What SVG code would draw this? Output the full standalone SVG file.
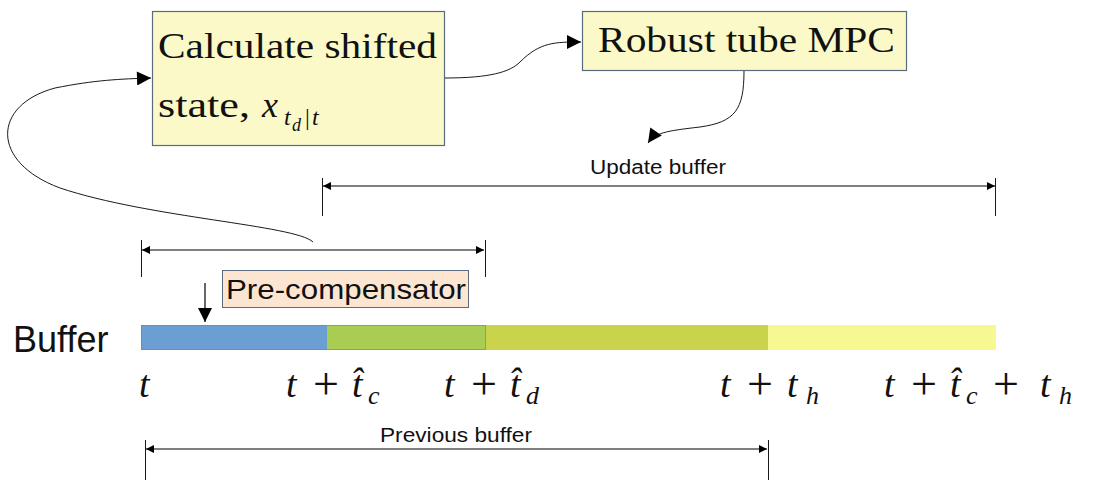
<svg xmlns="http://www.w3.org/2000/svg" width="1093" height="503" viewBox="0 0 1093 503">
<defs>
<style>
.box{fill:#fbf9c8;stroke:#5b6b7e;stroke-width:1.2}
.serif{font-family:"Liberation Serif","DejaVu Serif",serif;fill:#111}
.sans{font-family:"Liberation Sans","DejaVu Sans",sans-serif;fill:#111}
.math{font-family:"Liberation Serif","DejaVu Serif",serif;font-style:italic;fill:#111}
.plus{font-family:"Liberation Serif","DejaVu Serif",serif;fill:#111;font-size:46px;text-anchor:middle}
.mr{font-family:"Liberation Serif","DejaVu Serif",serif;fill:#111}
.line{stroke:#000;stroke-width:1.2;fill:none}
.thin{stroke:#000;stroke-width:0.9;fill:none}
</style>
<marker id="ah" viewBox="0 0 10 10" refX="10" refY="5" markerWidth="22" markerHeight="14" markerUnits="userSpaceOnUse" orient="auto">
<path d="M0,0 L10,5 L0,10 z" fill="#000"/>
</marker>
<marker id="dh" viewBox="0 0 10 10" refX="10" refY="5" markerWidth="12" markerHeight="8" markerUnits="userSpaceOnUse" orient="auto-start-reverse">
<path d="M0,0 L10,5 L0,10 z" fill="#000"/>
</marker>
</defs>
<rect width="1093" height="503" fill="#fff"/>

<g id="calc">
<rect class="box" x="152.5" y="11.5" width="292" height="134"/>
<text class="serif" x="158" y="58" font-size="36" textLength="279" lengthAdjust="spacingAndGlyphs">Calculate shifted</text>
<text class="serif" x="158" y="117" font-size="36" textLength="92" lengthAdjust="spacingAndGlyphs">state,</text>
<text class="math" x="262" y="117" font-size="36">x</text>
<text class="math" x="284" y="125" font-size="24">t</text>
<text class="math" x="292" y="131" font-size="18">d</text>
<text class="mr" x="305" y="125" font-size="24">|</text>
<text class="math" x="312" y="125" font-size="24">t</text>
</g>

<g id="mpc">
<rect class="box" x="582.5" y="11.5" width="324" height="59"/>
<text class="serif" x="598" y="52" font-size="36" textLength="297" lengthAdjust="spacingAndGlyphs">Robust tube MPC</text>
</g>

<g id="precomp">
<rect x="222.5" y="270.5" width="246" height="37" fill="#fce6d2" stroke="#5b6b7e" stroke-width="1"/>
<text class="sans" x="226" y="299" font-size="28" textLength="240" lengthAdjust="spacingAndGlyphs">Pre-compensator</text>
</g>

<g id="buffer">
<text class="sans" x="13" y="352" font-size="36">Buffer</text>
<rect x="141" y="325" width="187" height="25" fill="#6b9fd4"/>
<rect x="327" y="325" width="159" height="25" fill="#a9cc52"/>
<rect x="486" y="325" width="283" height="25" fill="#c9d34c"/>
<rect x="768" y="325" width="228" height="25" fill="#f8f893"/>
<rect x="141.5" y="325.5" width="344" height="24" fill="none" stroke="#6a8a70" stroke-width="1" opacity="0.6"/>
</g>

<g id="labels">
<text class="math" x="139" y="397" font-size="38">t</text>

<text class="math" x="286" y="397" font-size="38">t</text>
<text class="plus" x="326" y="399">+</text>
<text class="math" x="352" y="397" font-size="38">t̂</text>
<text class="math" x="368" y="404" font-size="26">c</text>

<text class="math" x="444" y="397" font-size="38">t</text>
<text class="plus" x="484" y="399">+</text>
<text class="math" x="510" y="397" font-size="38">t̂</text>
<text class="math" x="526" y="404" font-size="26">d</text>

<text class="math" x="720" y="397" font-size="38">t</text>
<text class="plus" x="760" y="399">+</text>
<text class="math" x="787" y="397" font-size="38">t</text>
<text class="math" x="806" y="404" font-size="26">h</text>

<text class="math" x="884" y="397" font-size="38">t</text>
<text class="plus" x="924" y="399">+</text>
<text class="math" x="950" y="397" font-size="38">t̂</text>
<text class="math" x="966" y="404" font-size="26">c</text>
<text class="plus" x="1006" y="399">+</text>
<text class="math" x="1040" y="397" font-size="38">t</text>
<text class="math" x="1059" y="404" font-size="26">h</text>

<text class="sans" x="658" y="174" font-size="20" text-anchor="middle" textLength="136" lengthAdjust="spacingAndGlyphs">Update buffer</text>
<text class="sans" x="456" y="442" font-size="20" text-anchor="middle" textLength="152" lengthAdjust="spacingAndGlyphs">Previous buffer</text>
</g>

<g id="connectors">
<path class="thin" d="M445,78 C490,78 510,72 520,62 C540,42 555,42 581,42" marker-end="url(#ah)"/>
<path class="thin" d="M744,71 C744,110 735,122 700,127 C665,131 655,133 648,143" marker-end="url(#ah)"/>
<path class="thin" d="M313,242 C295,225 150,218 60,188 C-10,162 -8,105 55,88 C95,80 120,79 151,78" marker-end="url(#ah)"/>
<path class="line" d="M205,283 L205,322" marker-end="url(#ah)"/>

<path class="line" d="M323,186 L995,186" marker-start="url(#dh)" marker-end="url(#dh)"/>
<path class="thin" d="M322.5,178 V216 M995.5,178 V216"/>

<path class="line" d="M142,250 L484,250" marker-start="url(#dh)" marker-end="url(#dh)"/>
<path class="thin" d="M141.5,240 V277 M485.5,240 V277"/>

<path class="line" d="M146,449 L767,449" marker-start="url(#dh)" marker-end="url(#dh)"/>
<path class="thin" d="M145.5,440 V480 M768.5,440 V480"/>
</g>
</svg>
